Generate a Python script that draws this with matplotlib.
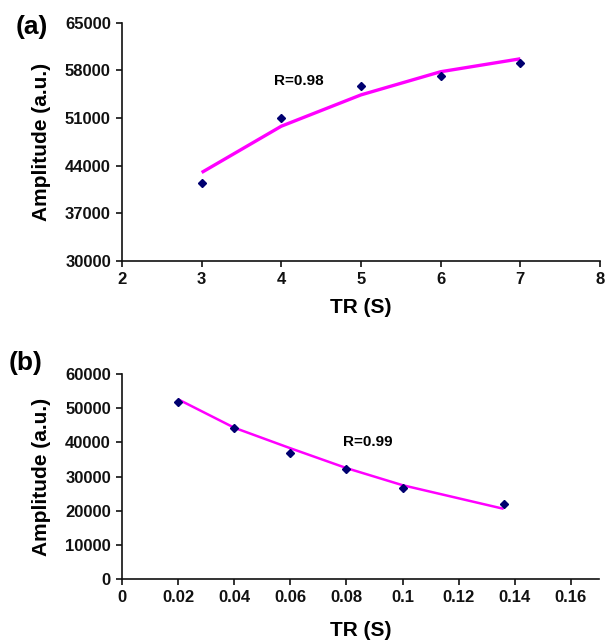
import matplotlib
matplotlib.use("Agg")
import matplotlib.pyplot as plt

plt.rcParams['font.family'] = ['Liberation Sans', 'DejaVu Sans']
plt.rcParams['font.weight'] = 'bold'

# Panel (a)
tr_a = [3, 4, 5, 6, 7]
amp_a = [41500, 51000, 55700, 57200, 59100]
fit_a = [43000, 49800, 54400, 57800, 59700]
xticks_a = [2, 3, 4, 5, 6, 7, 8]
yticks_a = [30000, 37000, 44000, 51000, 58000, 65000]
r_a = "R=0.98"

# Panel (b)
tr_b = [0.02, 0.04, 0.06, 0.08, 0.10, 0.136]
amp_b = [51900, 44200, 36900, 32200, 26700, 22100]
fit_b = [52600, 44300, 38300, 32500, 27500, 20600]
xticks_b = [0, 0.02, 0.04, 0.06, 0.08, 0.1, 0.12, 0.14, 0.16]
xticklabels_b = ["0", "0.02", "0.04", "0.06", "0.08", "0.1", "0.12", "0.14", "0.16"]
yticks_b = [0, 10000, 20000, 30000, 40000, 50000, 60000]
r_b = "R=0.99"

W, H = 606, 641
fig = plt.figure(figsize=(W / 100, H / 100), dpi=100)

def px_axes(l, r, t, b):
    return fig.add_axes([l / W, 1 - b / H, (r - l) / W, (b - t) / H])

ax1 = px_axes(122, 600, 22.7, 261)
ax2 = px_axes(122, 599, 374, 579.3)

line_col = '#ff00ff'
mk_col = '#000070'

def style(ax):
    for s in ['top', 'right']:
        ax.spines[s].set_visible(False)
    for s in ['left', 'bottom']:
        ax.spines[s].set_linewidth(1.2)
        ax.spines[s].set_color('#111111')
    ax.tick_params(direction='out', length=4, width=1.2, pad=4,
                   labelsize=12, colors='#111111')
    for lab in ax.get_xticklabels() + ax.get_yticklabels():
        lab.set_fontweight('bold')

# (a)
ax1.plot(tr_a, fit_a, color=line_col, lw=2.4, solid_capstyle='butt', zorder=2)
ax1.plot(tr_a, amp_a, linestyle='none', marker='D', ms=4.5, color=mk_col, zorder=3)
ax1.set_xlim(2, 8)
ax1.set_ylim(30000, 65000)
ax1.set_xticks(xticks_a)
ax1.set_yticks(yticks_a)
ax1.set_xticklabels([str(v) for v in xticks_a])
ax1.set_yticklabels([str(v) for v in yticks_a])
style(ax1)
ax1.set_xlabel("TR (S)", fontsize=15, fontweight='bold', labelpad=8)
ax1.set_ylabel("Amplitude (a.u.)", fontsize=15, fontweight='bold')
ax1.yaxis.set_label_coords(-0.148, 0.5)
ax1.text(0.318, 0.756, r_a, transform=ax1.transAxes, fontsize=11,
         fontweight='bold', va='center', ha='left')
fig.text(16 / W, 1 - 27 / H, "(a)", fontsize=19, fontweight='bold',
         va='center', ha='left')

# (b)
ax2.plot(tr_b, fit_b, color=line_col, lw=1.8, solid_capstyle='butt', zorder=2)
ax2.plot(tr_b, amp_b, linestyle='none', marker='D', ms=4.5, color=mk_col, zorder=3)
ax2.set_xlim(0, 0.17)
ax2.set_ylim(0, 60000)
ax2.set_xticks(xticks_b)
ax2.set_xticklabels(xticklabels_b)
ax2.set_yticks(yticks_b)
ax2.set_yticklabels([str(v) for v in yticks_b])
style(ax2)
ax2.set_xlabel("TR (S)", fontsize=15, fontweight='bold', labelpad=11)
ax2.set_ylabel("Amplitude (a.u.)", fontsize=15, fontweight='bold')
ax2.yaxis.set_label_coords(-0.148, 0.5)
ax2.text(0.4627, 0.67, r_b, transform=ax2.transAxes, fontsize=11,
         fontweight='bold', va='center', ha='left')
fig.text(9 / W, 1 - 363 / H, "(b)", fontsize=19, fontweight='bold',
         va='center', ha='left')

fig.savefig("out.png", dpi=100)
